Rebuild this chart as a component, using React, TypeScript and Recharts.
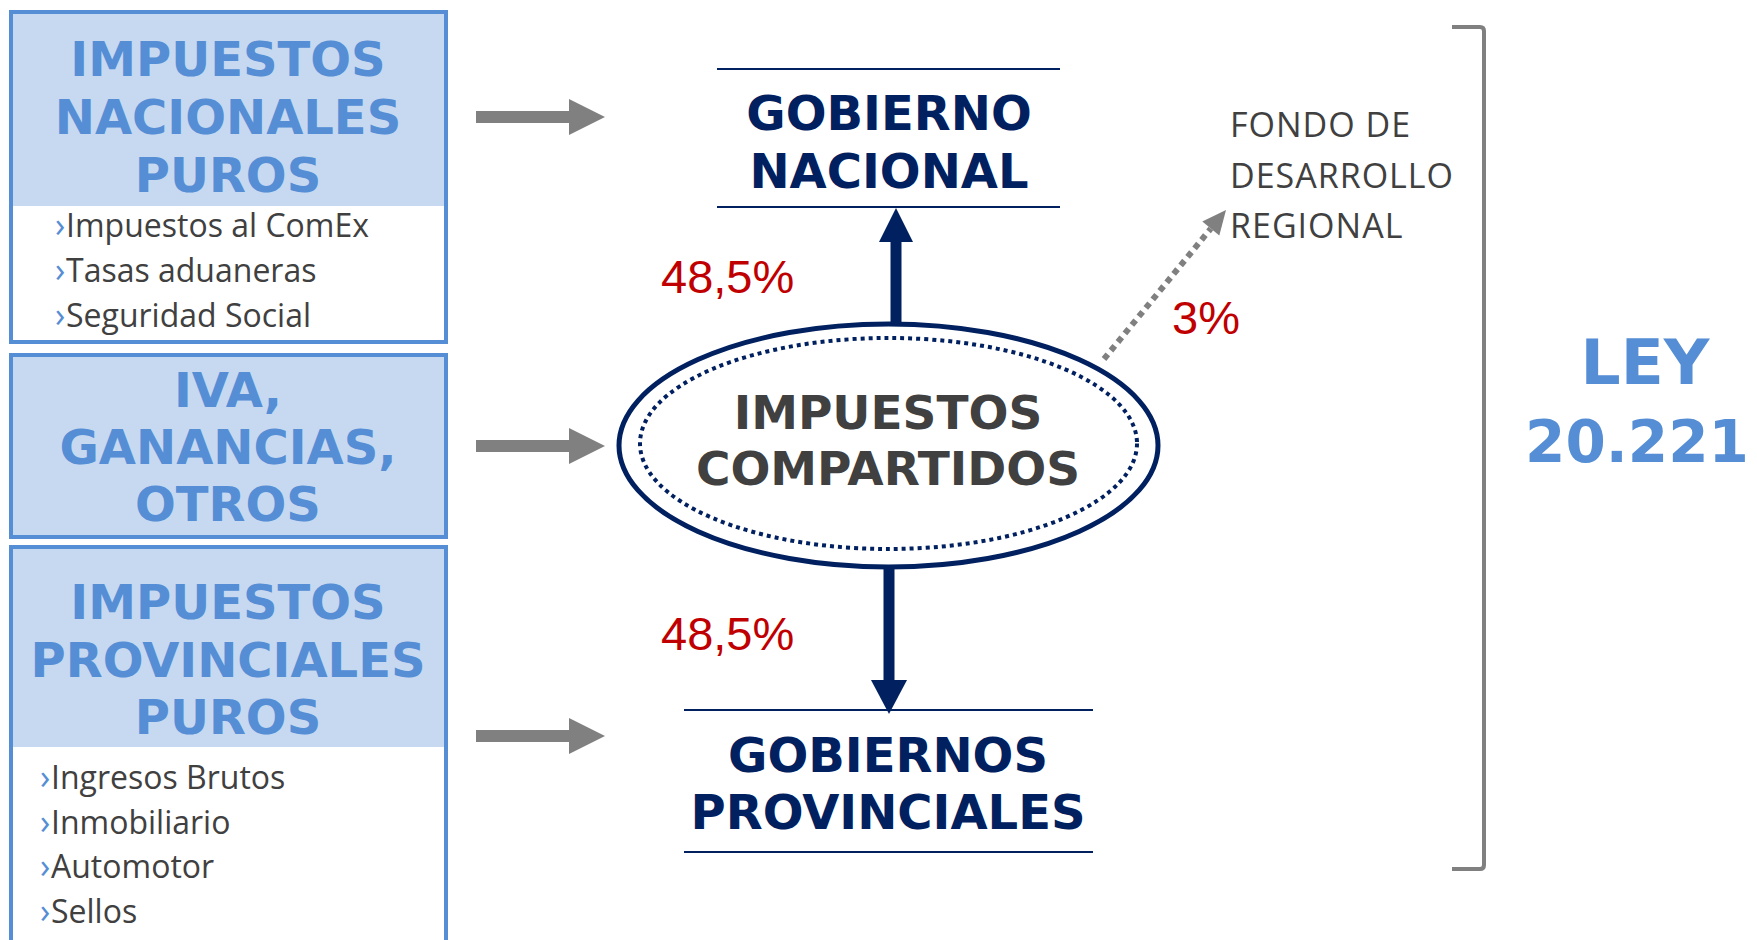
import { ScatterChart, Scatter, XAxis, YAxis, ReferenceArea, ReferenceLine } from 'recharts'

// diagram texts
const nationalTitle = ['IMPUESTOS', 'NACIONALES', 'PUROS']
const nationalItems = ['Impuestos al ComEx', 'Tasas aduaneras', 'Seguridad Social']
const sharedTitle = ['IVA,', 'GANANCIAS,', 'OTROS']
const provincialTitle = ['IMPUESTOS', 'PROVINCIALES', 'PUROS']
const provincialItems = ['Ingresos Brutos', 'Inmobiliario', 'Automotor', 'Sellos']
const poolTitle = ['IMPUESTOS', 'COMPARTIDOS']
const nationGov = ['GOBIERNO', 'NACIONAL']
const provinceGov = ['GOBIERNOS', 'PROVINCIALES']
const fundLines = ['FONDO DE', 'DESARROLLO', 'REGIONAL']
const lawName = ['LEY']
const lawNumber = ['20.221']

// primary distribution (%)
const shareNames = ['Nación', 'Provincias', 'Fondo de Desarrollo Regional']
const shareValues = [48.5, 48.5, 3]

const W = 1757
const H = 940

const BLUE = '#558ED5'
const LIGHT = '#C6D9F1'
const NAVY = '#002060'
const GRAY = '#808080'
const RED = '#C00000'
const DARK = '#404040'

const heavy = "'DejaVu Sans', sans-serif"
const body = "'Open Sans', sans-serif"
const arial = "'Liberation Sans', Arial, sans-serif"

const pct = (v: number) => `${String(v).replace('.', ',')}%`

const stack = (lines: string[], x: number, y0: number, step: number) =>
  lines.map((label, i) => ({ x, y: y0 + i * step, label }))

const textShape = (style: any) => (p: any) => (
  <text x={p.cx} y={p.cy} {...style}>{p.payload.label}</text>
)

const arrowShape = (color: string, width: number, headLen: number, headHalf: number, dash?: string) => (p: any) => {
  const { x1, y1, x2, y2 } = p
  const dx = x2 - x1, dy = y2 - y1
  const len = Math.hypot(dx, dy)
  const ux = dx / len, uy = dy / len
  const bx = x2 - ux * headLen, by = y2 - uy * headLen
  const nx = -uy * headHalf, ny = ux * headHalf
  return (
    <g>
      <line x1={x1} y1={y1} x2={bx} y2={by} stroke={color} strokeWidth={width} strokeDasharray={dash} />
      <polygon points={`${x2},${y2} ${bx + nx},${by + ny} ${bx - nx},${by - ny}`} fill={color} />
    </g>
  )
}

const ellipseShape = (width: number, dash?: string) => (p: any) => (
  <ellipse cx={p.x + p.width / 2} cy={p.y + p.height / 2} rx={p.width / 2} ry={p.height / 2}
    fill="none" stroke={NAVY} strokeWidth={width} strokeDasharray={dash} />
)

const bracketShape = (p: any) => {
  const { x, y, width, height } = p
  const r = 4
  const d = `M${x},${y} L${x + width - r},${y} Q${x + width},${y} ${x + width},${y + r} L${x + width},${y + height - r} Q${x + width},${y + height} ${x + width - r},${y + height} L${x},${y + height}`
  return <path d={d} fill="none" stroke={GRAY} strokeWidth={4} />
}

const titleStyle = { fontFamily: heavy, fontWeight: 700, fontSize: 48, fill: BLUE, textAnchor: 'middle' }
const govStyle = { fontFamily: heavy, fontWeight: 700, fontSize: 48, fill: NAVY, textAnchor: 'middle' }
const poolStyle = { fontFamily: heavy, fontWeight: 700, fontSize: 47, fill: DARK, textAnchor: 'middle' }
const itemStyle = { fontFamily: body, fontSize: 32, fill: DARK }
const chevStyle = { fontFamily: body, fontSize: 34, fill: BLUE }
const fundStyle = { fontFamily: body, fontSize: 34, fill: DARK, letterSpacing: 1 }
const lawStyle = { fontFamily: heavy, fontWeight: 700, fontSize: 63, fill: BLUE, textAnchor: 'middle' }
const lawNumStyle = { ...lawStyle, fontSize: 58 }
const pctStyle = { fontFamily: arial, fontSize: 47, fill: RED }

const texts: { data: any[]; style: any }[] = [
  { data: stack(nationalTitle, 228, 76, 58), style: titleStyle },
  { data: stack(sharedTitle, 228, 407, 57), style: titleStyle },
  { data: stack(provincialTitle, 228, 619, 57.5), style: titleStyle },
  { data: stack(nationalItems, 66, 237, 45), style: itemStyle },
  { data: stack(nationalItems.map(() => '›'), 55, 237, 45), style: chevStyle },
  { data: stack(provincialItems, 51, 789, 44.5), style: itemStyle },
  { data: stack(provincialItems.map(() => '›'), 40, 789, 44.5), style: chevStyle },
  { data: stack(nationGov, 889, 130, 58), style: govStyle },
  { data: stack(provinceGov, 888, 772, 57), style: govStyle },
  { data: stack(poolTitle, 888, 429, 56), style: poolStyle },
  { data: stack(fundLines, 1230, 137, 50.5), style: fundStyle },
  { data: stack(lawName, 1645, 384, 0), style: lawStyle },
  { data: stack(lawNumber, 1637, 462, 0), style: lawNumStyle },
  {
    data: [
      { x: 661, y: 293, label: pct(shareValues[0]), name: shareNames[0] },
      { x: 661, y: 650, label: pct(shareValues[1]), name: shareNames[1] },
      { x: 1172, y: 334, label: pct(shareValues[2]), name: shareNames[2] },
    ],
    style: pctStyle,
  },
]

const inputArrowsY = [117, 446, 736]

export default function App() {
  return (
    <div style={{ position: 'absolute', left: 0, top: 0, width: W, height: H, background: '#fff' }}>
      <ScatterChart width={W} height={H} margin={{ top: 0, right: 0, bottom: 0, left: 0 }}>
        <XAxis type="number" dataKey="x" domain={[0, W]} allowDataOverflow hide />
        <YAxis type="number" dataKey="y" domain={[0, H]} allowDataOverflow reversed hide />

        {/* tax boxes */}
        <ReferenceArea x1={13} x2={444} y1={14} y2={206} fill={LIGHT} fillOpacity={1} stroke="none" />
        <ReferenceArea x1={11} x2={446} y1={12} y2={342} fill="none" stroke={BLUE} strokeWidth={4} />
        <ReferenceArea x1={11} x2={446} y1={355} y2={537} fill={LIGHT} fillOpacity={1} stroke={BLUE} strokeWidth={4} />
        <ReferenceArea x1={13} x2={444} y1={549} y2={747} fill={LIGHT} fillOpacity={1} stroke="none" ifOverflow="visible" />
        <ReferenceArea x1={11} x2={446} y1={547} y2={950} fill="none" stroke={BLUE} strokeWidth={4} ifOverflow="visible" />

        {/* inputs */}
        {inputArrowsY.map(y => (
          <ReferenceLine key={y} segment={[{ x: 476, y }, { x: 605, y }]} shape={arrowShape(GRAY, 12, 36, 18)} />
        ))}

        {/* government rules */}
        <ReferenceLine segment={[{ x: 717, y: 69 }, { x: 1060, y: 69 }]} stroke={NAVY} strokeWidth={2} />
        <ReferenceLine segment={[{ x: 717, y: 207 }, { x: 1060, y: 207 }]} stroke={NAVY} strokeWidth={2} />
        <ReferenceLine segment={[{ x: 684, y: 710 }, { x: 1093, y: 710 }]} stroke={NAVY} strokeWidth={2} />
        <ReferenceLine segment={[{ x: 684, y: 852 }, { x: 1093, y: 852 }]} stroke={NAVY} strokeWidth={2} />

        {/* shared pool */}
        <ReferenceArea x1={619} x2={1158} y1={324} y2={567} shape={ellipseShape(5)} />
        <ReferenceArea x1={640} x2={1137} y1={338} y2={549} shape={ellipseShape(4, '4 4')} />

        {/* distribution arrows */}
        <ReferenceLine segment={[{ x: 896, y: 324 }, { x: 896, y: 208 }]} shape={arrowShape(NAVY, 11, 34, 17)} />
        <ReferenceLine segment={[{ x: 889, y: 567 }, { x: 889, y: 714 }]} shape={arrowShape(NAVY, 11, 34, 18)} />
        <ReferenceLine segment={[{ x: 1104, y: 359 }, { x: 1226, y: 210 }]} shape={arrowShape(GRAY, 6, 24, 11, '6 5')} />

        {/* law bracket */}
        <ReferenceArea x1={1452} x2={1484} y1={27} y2={869} shape={bracketShape} />

        {texts.map((t, i) => (
          <Scatter key={i} data={t.data} shape={textShape(t.style)} isAnimationActive={false} />
        ))}
      </ScatterChart>
    </div>
  )
}
